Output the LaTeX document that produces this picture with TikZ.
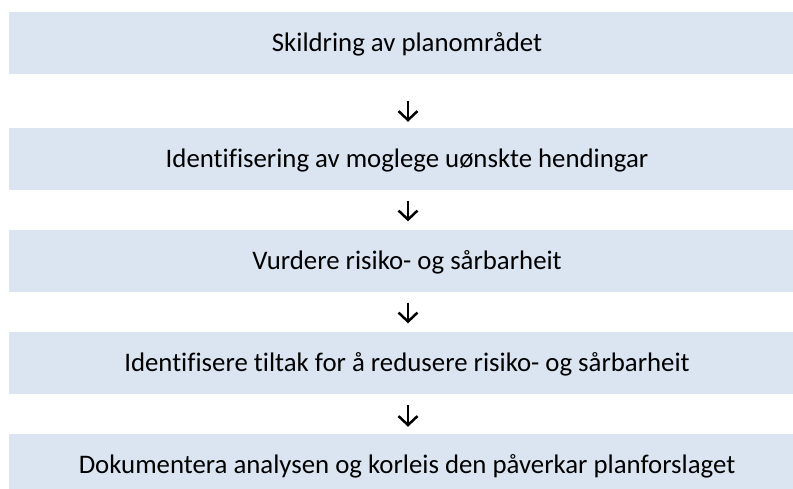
\documentclass[tikz,border=0pt]{standalone}
\usepackage{fontspec}
\setmainfont{Carlito}[Ligatures={NoCommon}]
\usepackage{tikz}
\usetikzlibrary{arrows.meta}
\definecolor{barfill}{RGB}{219,229,241}

\begin{document}
\begin{tikzpicture}[>={Straight Barb[length=9bp,width=19bp,line width=2.5bp]},line join=miter,
  bar/.style={rectangle,fill=barfill,minimum width=784bp,minimum height=62bp,inner sep=0pt},
  steptext/.style={anchor=base,inner sep=0pt,font=\fontsize{26.8bp}{32bp}\selectfont},
  flow/.style={->,line width=2.5bp,shorten <=10.5bp,shorten >=8.5bp}]
\useasboundingbox (0bp,0bp) rectangle (793bp,489bp);
%%
\node (s1) at (401bp,446bp) [bar] {};
  \node (s2) at (401bp,330bp) [bar] {};
  \node (s3) at (401bp,228bp) [bar] {};
  \node (s4) at (401bp,126bp) [bar] {};
  \node (s5) at (401bp,24bp) [bar] {};
  \node (l1) at (407bp,437.5bp) [steptext] {Skildring av planområdet};
  \node (l2) at (407bp,321.5bp) [steptext] {Identifisering av moglege uønskte hendingar};
  \node (l3) at (407bp,219.5bp) [steptext] {Vurdere risiko- og sårbarheit};
  \node (l4) at (407bp,117.5bp) [steptext] {Identifisere tiltak for å redusere risiko- og sårbarheit};
  \node (l5) at (407bp,15.5bp) [steptext] {Dokumentera analysen og korleis den påverkar planforslaget};
  \coordinate (ax) at (408bp,0bp);
  \draw [flow,shorten <=26.5bp,shorten >=6bp] (s1.south -| ax) -- (s2.north -| ax);
  \draw [flow] (s2.south -| ax) -- (s3.north -| ax);
  \draw [flow] (s3.south -| ax) -- (s4.north -| ax);
  \draw [flow,shorten <=11bp,shorten >=7bp] (s4.south -| ax) -- (s5.north -| ax);
%
\end{tikzpicture}
\end{document}
